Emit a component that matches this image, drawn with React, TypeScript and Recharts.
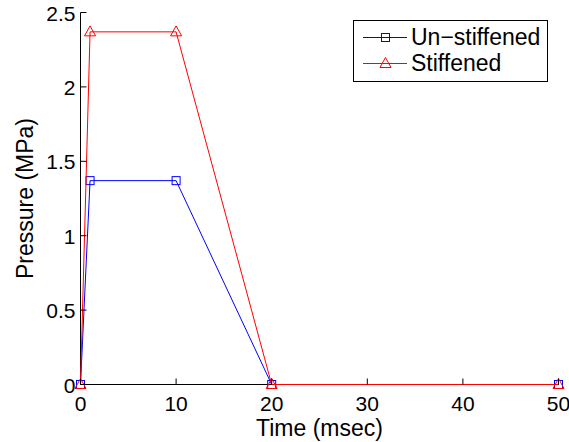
import React from 'react';
import { LineChart, Line, XAxis, YAxis } from 'recharts';

const timeMs = [0, 1, 10, 20, 50];
const unstiffened = [0, 1.37, 1.37, 0, 0];
const stiffened = [0, 2.37, 2.37, 0, 0];
const xTicks = [0, 10, 20, 30, 40, 50];
const yTicks = [0, 0.5, 1, 1.5, 2, 2.5];
const seriesNames = ['Un\u2212stiffened', 'Stiffened'];
const seriesColors = ['#0000ff', '#ff0000'];

const data = timeMs.map((t, i) => ({ t, u: unstiffened[i], s: stiffened[i] }));

const FONT = '"Liberation Sans", Arial, Helvetica, sans-serif';
const FS = 21;
const LFS = 23;
const TL = 6;
const AXIS_LINE = { stroke: '#000', strokeWidth: 1 } as any;

const BottomTick = (props: any) => {
  const { x, y, payload } = props;
  return (
    <g>
      <line x1={x} y1={y} x2={x} y2={y - TL} stroke="#000" strokeWidth={1} />
      <text x={x} y={y + 26} textAnchor="middle" fontSize={FS} fontFamily={FONT} fill="#000">
        {String(payload.value)}
      </text>
    </g>
  );
};

const TopTick = (props: any) => {
  const { x, y } = props;
  return <line x1={x} y1={y} x2={x} y2={y + TL} stroke="#000" strokeWidth={1} />;
};

const LeftTick = (props: any) => {
  const { x, y, payload } = props;
  return (
    <g>
      <line x1={x} y1={y} x2={x + TL} y2={y} stroke="#000" strokeWidth={1} />
      <text x={x - 5} y={y + 8} textAnchor="end" fontSize={FS} fontFamily={FONT} fill="#000">
        {String(payload.value)}
      </text>
    </g>
  );
};

const RightTick = (props: any) => {
  const { x, y } = props;
  return <line x1={x} y1={y} x2={x - TL} y2={y} stroke="#000" strokeWidth={1} />;
};

const SquareDot = (props: any) => {
  const { cx, cy, key } = props;
  if (cx == null || cy == null) return null;
  return <rect key={key} x={cx - 4} y={cy - 4} width={8} height={8} fill="none" stroke="#0000ff" strokeWidth={1} />;
};

const TriDot = (props: any) => {
  const { cx, cy, key } = props;
  if (cx == null || cy == null) return null;
  return (
    <polygon
      key={key}
      points={`${cx},${cy - 6} ${cx - 5.5},${cy + 4} ${cx + 5.5},${cy + 4}`}
      fill="none"
      stroke="#ff0000"
      strokeWidth={1}
    />
  );
};

const XLabel = (props: any) => {
  const vb = props.viewBox || {};
  return (
    <text x={vb.x + vb.width / 2} y={vb.y + 51} textAnchor="middle" fontSize={LFS} fontFamily={FONT} fill="#000">
      Time (msec)
    </text>
  );
};

const YLabel = (props: any) => {
  const vb = props.viewBox || {};
  const cx = vb.x + 24;
  const cy = vb.y + vb.height / 2;
  return (
    <text
      x={cx}
      y={cy}
      transform={`rotate(-90, ${cx}, ${cy})`}
      textAnchor="middle"
      dominantBaseline="central"
      fontSize={LFS}
      fontFamily={FONT}
      fill="#000"
    >
      Pressure (MPa)
    </text>
  );
};

export default function App() {
  const lineExtra: any = { zIndex: 600 };
  return (
    <div style={{ position: 'absolute', left: 0, top: 0, width: 569, height: 442, background: '#fff' }}>
      <LineChart width={569} height={442} data={data} margin={{ top: 12.5, right: 10.5, bottom: 0, left: 0.5 }}>
        <XAxis
          xAxisId="b"
          dataKey="t"
          type="number"
          domain={[0, 50]}
          ticks={xTicks}
          interval={0}
          height={57.5}
          tickSize={0}
          tickMargin={0}
          tickLine={false}
          stroke="#000"
          axisLine={AXIS_LINE}
          tick={<BottomTick />}
          label={<XLabel />}
        />
        <XAxis
          xAxisId="t"
          orientation="top"
          dataKey="t"
          type="number"
          domain={[0, 50]}
          ticks={xTicks}
          interval={0}
          height={0}
          tickSize={0}
          tickMargin={0}
          tickLine={false}
          stroke="#000"
          axisLine={AXIS_LINE}
          tick={<TopTick />}
        />
        <YAxis
          yAxisId="l"
          type="number"
          domain={[0, 2.5]}
          ticks={yTicks}
          interval={0}
          width={80}
          tickSize={0}
          tickMargin={0}
          tickLine={false}
          stroke="#000"
          axisLine={AXIS_LINE}
          tick={<LeftTick />}
          label={<YLabel />}
        />
        <YAxis
          yAxisId="r"
          orientation="right"
          type="number"
          domain={[0, 2.5]}
          ticks={yTicks}
          interval={0}
          width={0}
          tickSize={0}
          tickMargin={0}
          tickLine={false}
          stroke="#000"
          axisLine={AXIS_LINE}
          tick={<RightTick />}
        />
        <Line
          xAxisId="b"
          yAxisId="l"
          type="linear"
          dataKey="u"
          stroke={seriesColors[0]}
          strokeWidth={1}
          dot={<SquareDot />}
          activeDot={false}
          isAnimationActive={false}
          {...lineExtra}
        />
        <Line
          xAxisId="b"
          yAxisId="l"
          type="linear"
          dataKey="s"
          stroke={seriesColors[1]}
          strokeWidth={1}
          dot={<TriDot />}
          activeDot={false}
          isAnimationActive={false}
          {...lineExtra}
        />
      </LineChart>
      <div
        style={{
          position: 'absolute',
          left: 353,
          top: 20,
          width: 195,
          height: 62,
          boxSizing: 'border-box',
          border: '1px solid #000',
          background: '#fff',
          paddingTop: 3,
          fontFamily: FONT,
          fontSize: LFS,
          color: '#000',
        }}
      >
        {seriesNames.map((name, i) => (
          <div key={name} style={{ display: 'flex', alignItems: 'center', height: 26 }}>
            <svg width={57} height={26} style={{ display: 'block', flex: 'none' }}>
              <line x1={9} y1={13.5} x2={53} y2={13.5} stroke={seriesColors[i]} strokeWidth={1} />
              {i === 0 ? (
                <rect x={27.5} y={9.5} width={8} height={8} fill="none" stroke={seriesColors[i]} strokeWidth={1} />
              ) : (
                <polygon points="31.5,7.5 26,17.5 37,17.5" fill="none" stroke={seriesColors[i]} strokeWidth={1} />
              )}
            </svg>
            <span style={{ lineHeight: '26px', whiteSpace: 'nowrap' }}>{name}</span>
          </div>
        ))}
      </div>
    </div>
  );
}
